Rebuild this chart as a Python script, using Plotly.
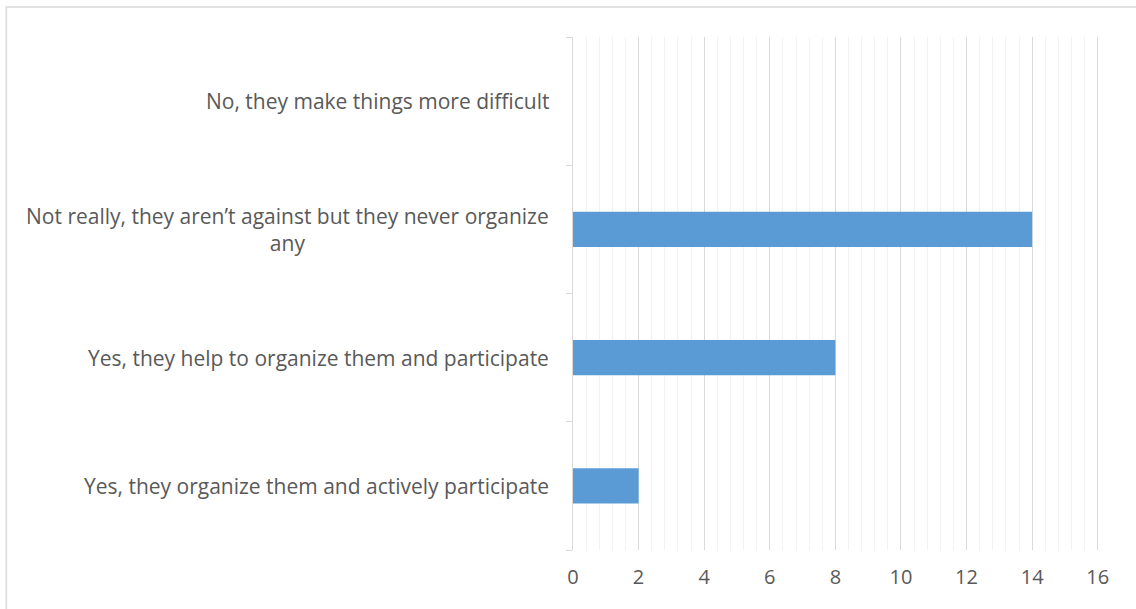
import plotly.graph_objects as go

# Survey responses, listed bottom to top
categories = [
    "Yes, they organize them and actively participate",
    "Yes, they help to organize them and participate",
    "Not really, they aren’t against but they never organize any",
    "No, they make things more difficult",
]
label_text = [
    "Yes, they organize them and actively participate",
    "Yes, they help to organize them and participate",
    "Not really, they aren’t against but they never organize<br>any",
    "No, they make things more difficult",
]
counts = [2, 8, 14, 0]
x_ticks = [0, 2, 4, 6, 8, 10, 12, 14, 16]
x_max = 16.1

W, H = 1136, 609
L, T, B = 573, 37, 59
unit_px = 525 / 16
R = W - L - unit_px * x_max
plot_w = W - L - R
plot_h = H - T - B

text_color = "#595959"
font_family = "'Open Sans', 'Noto Sans', sans-serif"

fig = go.Figure(
    go.Bar(
        x=counts,
        y=categories,
        orientation="h",
        marker=dict(color="#5B9BD5", line=dict(width=0)),
        hoverinfo="x+y",
    )
)

# Category labels as centered multi-line annotations left of the axis
annotations = [
    dict(
        x=0, xref="paper", y=cat, yref="y",
        text=txt, showarrow=False,
        xanchor="right", yanchor="middle", align="center",
        xshift=-22,
        font=dict(family=font_family, size=21, color=text_color),
    )
    for cat, txt in zip(categories, label_text)
]

# Light frame around the whole chart
shapes = [
    dict(
        type="rect", xref="paper", yref="paper",
        x0=(6 - L) / plot_w, x1=(W + 20 - L) / plot_w,
        y0=(H - B - (H + 20)) / plot_h, y1=(H - B - 7) / plot_h,
        line=dict(color="#D9D9D9", width=1.5),
        fillcolor="rgba(0,0,0,0)", layer="below",
    )
]

fig.update_layout(
    width=W, height=H,
    margin=dict(l=L, r=R, t=T, b=B),
    paper_bgcolor="white", plot_bgcolor="white",
    bargap=0.727,
    showlegend=False,
    annotations=annotations,
    shapes=shapes,
    font=dict(family=font_family, color=text_color),
)

fig.update_xaxes(
    range=[0, x_max],
    tickvals=x_ticks,
    ticktext=[str(v) for v in x_ticks],
    showgrid=True, gridcolor="#D9D9D9", gridwidth=1.3,
    minor=dict(tickvals=[i * 0.4 for i in range(41)], showgrid=True,
               gridcolor="#F2F2F2", gridwidth=1.3),
    zeroline=False, showline=False,
    ticks="", ticklabelstandoff=13,
    tickfont=dict(family=font_family, size=20, color=text_color),
)

fig.update_yaxes(
    type="category",
    categoryorder="array", categoryarray=categories,
    range=[-0.5, 3.5],
    showticklabels=False,
    tickson="boundaries",
    ticks="outside", ticklen=6, tickcolor="#D9D9D9", tickwidth=1.3,
    showline=True, linecolor="#D9D9D9", linewidth=1.3,
    showgrid=False, zeroline=False,
)

fig.write_html("out.html")
